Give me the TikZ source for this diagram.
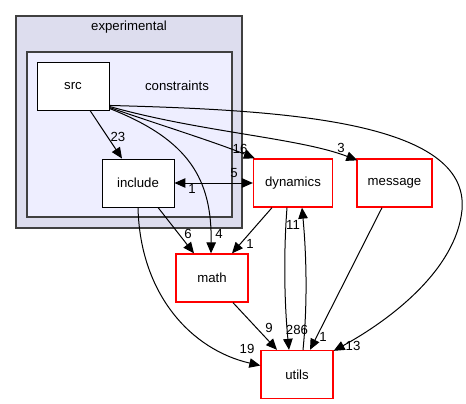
\documentclass[tikz,border=0pt]{standalone}
\usepackage{fontspec}
\setmainfont{Liberation Sans}
\usetikzlibrary{arrows.meta}
\definecolor{clusterouter}{HTML}{DDDDEE}
\definecolor{clusterinner}{HTML}{EEEEFF}
\definecolor{clusterline}{HTML}{404040}
\begin{document}
\begin{tikzpicture}[x=1pt,y=-1pt,line width=1pt,>={Triangle[length=11pt,width=9.5pt]},
font=\fontsize{13.2}{15}\selectfont,
dirblock/.style={draw,rectangle,fill=white,inner sep=2pt,minimum width=72pt,minimum height=48pt,line width=0.9pt},
extblock/.style={dirblock,draw=red,line width=1.3pt},
edgelbl/.style={inner sep=0pt}]
\useasboundingbox (0,0) rectangle (466,404);
\draw[clusterline,fill=clusterouter,line width=1.4pt] (16,16) rectangle (242,228);
\draw[clusterline,fill=clusterinner,line width=1.4pt] (27,52) rectangle (232,217);
\node (experimental) at (129,27) {experimental};
\node (constraints) at (177,86) {constraints};
\draw (73,86) node[dirblock] (src) {src};
\draw (138,183) node[dirblock] (include) {include};
\draw (293,183) node[extblock,minimum width=79pt] (dynamics) {dynamics};
\draw (394.5,183) node[extblock,minimum width=75pt] (message) {message};
\draw (212,278) node[extblock] (math) {math};
\draw (297,374.5) node[extblock] (utils) {utils};
% edges out of src
\draw[->] ([xshift=17pt]src.south) -- ([xshift=-16pt]include.north);
\draw[->] ([yshift=3pt]src.south east) .. controls (160,125) and (215,142) .. ([xshift=2pt]dynamics.north west);
\draw[->] ([yshift=4pt]src.south east) .. controls (200,132) and (300,138) .. ([xshift=1pt,yshift=-2pt]message.north west);
\draw[->] ([yshift=5pt]src.south east) .. controls (280,110) and (470,120) .. (462,210) .. controls (456,270) and (390,320) .. ([yshift=-1pt]utils.north east);
\draw[->] ([yshift=2pt]src.south east) .. controls (190,140) and (212,180) .. ([xshift=-1pt]math.north);
% edges out of include
\draw[<->] (include.east) -- (dynamics.west);
\draw[->] ([xshift=20pt]include.south) -- ([xshift=-18pt]math.north);
\draw[->] (include.south) .. controls (140,295) and (192,350) .. ([yshift=9pt]utils.west);
% remaining edges
\draw[->] ([xshift=-21pt]dynamics.south) -- ([xshift=20pt]math.north);
\draw[->] ([xshift=-6pt]dynamics.south) .. controls (283,260) and (285,310) .. ([xshift=-8pt]utils.north);
\draw[->] ([xshift=6pt]utils.north) .. controls (308,300) and (306,250) .. ([xshift=9pt]dynamics.south);
\draw[->] ([xshift=-12.5pt]message.south) -- ([xshift=13pt]utils.north);
\draw[->] ([xshift=21pt]math.south) -- ([xshift=-20pt]utils.north);
% edge labels
\node[edgelbl] (l23) at (118,137) {23};
\node[edgelbl] (l16) at (240,149) {16};
\node[edgelbl] (l3) at (341,148) {3};
\node[edgelbl] (l13) at (353,346) {13};
\node[edgelbl] (l4) at (219,234) {4};
\node[edgelbl] (l5) at (234,173) {5};
\node[edgelbl] (l1a) at (192,189) {1};
\node[edgelbl] (l6) at (188,234) {6};
\node[edgelbl] (l19) at (247,349) {19};
\node[edgelbl] (l1b) at (250,244) {1};
\node[edgelbl] (l286) at (297,330) {286};
\node[edgelbl] (l11) at (293,225) {11};
\node[edgelbl] (l1c) at (323,337) {1};
\node[edgelbl] (l9) at (269,328) {9};
\end{tikzpicture}
\end{document}
